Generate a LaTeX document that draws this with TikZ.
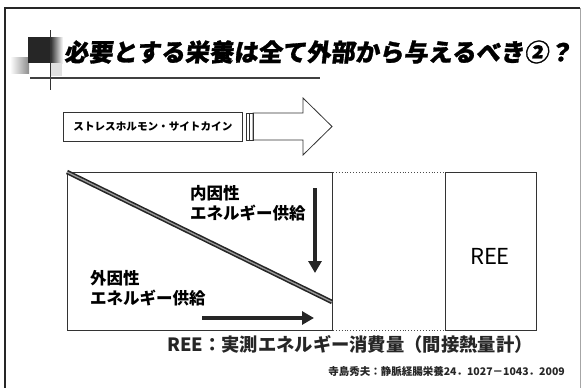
\documentclass[tikz,border=0pt]{standalone}
\usepackage{fontspec}
\newfontfamily\jp{Noto Sans CJK JP}
\newfontfamily\jptitle[FakeSlant=0.12, FakeBold=1.2]{Noto Sans CJK JP}
\usetikzlibrary{arrows.meta}
\tikzset{
  lab/.style={inner sep=0pt, font=\jp\bfseries\fontsize{16.5}{20}\selectfont, align=left},
  boxline/.style={draw=black!80, line width=0.9pt},
  bigarrow/.style={-{Triangle[length=12pt,width=13pt]}, line width=3.5pt, draw=black!85},
}
\begin{document}
\begin{tikzpicture}[x=1pt,y=-1pt]
\useasboundingbox (0,0) rectangle (582,388);
% frame
\draw[line width=2pt, black!85] (5,400) -- (5,8) -- (580,8);
\draw[line width=0.6pt, black!35] (580,8) -- (580,400);
% title decoration
\shade[left color=white, right color=black!45] (10,57) rectangle (29,73);
\fill[black!85] (28,37) rectangle (50,63);
\shade[left color=black!85, right color=white] (50,37) rectangle (63,63);
\fill[black!12] (50,63) rectangle (62,76);
\draw[line width=1pt, black!80] (50,30) -- (50,90);
\draw[line width=1.6pt, black!75] (30,78) -- (320,78);
\node[anchor=west, inner sep=0pt, font=\jptitle\bfseries\fontsize{24.3}{25}\selectfont] (title) at (64,52) {必要とする栄養は全て外部から与えるべき②？};
% stress box and hollow arrow
\node[boxline, line width=0.8pt, anchor=north west, minimum width=179pt, minimum height=29pt, inner sep=0pt,
      font=\jp\bfseries\fontsize{10.6}{12}\selectfont] (stress) at (63,112) {ストレスホルモン・サイトカイン};
\node[draw=black!80, line width=0.7pt, anchor=north west, minimum width=7pt, minimum height=27pt, inner sep=0pt] (gap) at (246,113) {};
\draw[black!80, line width=0.7pt] (249.5,113) -- (249.5,140);
\draw[black!80, line width=0.8pt] (253,113) -- (303,113) -- (303,98) -- (332,126.5) -- (303,155) -- (303,140) -- (253,140) -- cycle;
% main box
\node[boxline, anchor=north west, minimum width=265pt, minimum height=158pt, inner sep=0pt] (main) at (67,172) {};
\node[boxline, anchor=north west, minimum width=91pt, minimum height=158pt, inner sep=0pt] (ree) at (445,172) {};
\draw[dotted, line width=0.9pt, black!70] (main.north east) -- (ree.north west);
\draw[dotted, line width=0.9pt, black!70] (main.south east) -- (ree.south west);
\node[inner sep=0pt, font=\jp\fontsize{22}{24}\selectfont] (reelab) at (490,256) {REE};
% diagonal
\coordinate (d1) at (67,172);
\coordinate (d2) at (332,302);
\draw[line width=1.6pt, black!85, double=black!40, double distance=1.3pt] (d1) -- (d2);
% labels
\node[lab, anchor=west] (endo) at (190,203) {内因性\\エネルギー供給};
\node[lab, anchor=west] (exo) at (90,288) {外因性\\エネルギー供給};
\coordinate (a1) at (315,188);
\coordinate (a2) at (315,273);
\draw[bigarrow] (a1) -- (a2);
\coordinate (b1) at (202,318);
\coordinate (b2) at (314,318);
\draw[bigarrow] (b1) -- (b2);
% caption
\node[anchor=west, inner sep=0pt, text=black!85, font=\jp\bfseries\fontsize{18.3}{20}\selectfont] (cap) at (167,344) {REE：実測エネルギー消費量（間接熱量計）};
\node[anchor=east, inner sep=0pt, text=black!85, font=\jp\bfseries\fontsize{10.5}{12}\selectfont] (cite) at (565,372) {寺島秀夫：静脈経腸栄養24．1027－1043．2009};
\end{tikzpicture}
\end{document}
